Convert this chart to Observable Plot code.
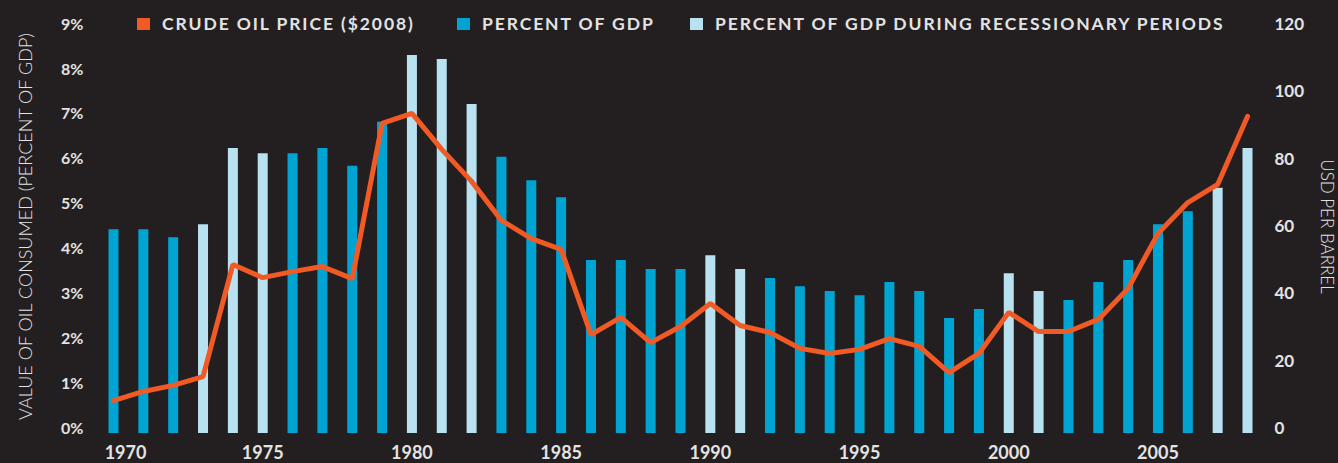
<!DOCTYPE html>
<html>
<head>
<meta charset="utf-8">
<script src="https://cdn.jsdelivr.net/npm/d3@7"></script>
<script src="https://cdn.jsdelivr.net/npm/@observablehq/plot@0.6"></script>
<style>
  html, body { margin: 0; padding: 0; background: #231f20; }
  #wrap { position: relative; width: 1338px; height: 463px; overflow: hidden; }
  .leg { position: absolute; top: 14px; display: flex; align-items: center; font-family: Lato, sans-serif; font-weight: 700; font-size: 17.5px; letter-spacing: 1.9px; color: #e3e3e3; white-space: nowrap; line-height: 20px; }
  .sw { width: 13px; height: 12px; margin-right: 12px; }
</style>
</head>
<body>
<div id="wrap"></div>
<script>
// ---- data ----
const years = [1970,1971,1972,1973,1974,1975,1976,1977,1978,1979,
               1980,1981,1982,1983,1984,1985,1986,1987,1988,1989,
               1990,1991,1992,1993,1994,1995,1996,1997,1998,1999,
               2000,2001,2002,2003,2004,2005,2006,2007,2008];
const pctOfGdp = [4.43,4.43,4.25,4.54,6.24,6.12,6.12,6.24,5.84,6.82,
                  8.31,8.22,7.22,6.04,5.52,5.14,3.74,3.74,3.54,3.54,
                  3.85,3.54,3.34,3.16,3.05,2.96,3.25,3.05,2.45,2.65,
                  3.45,3.05,2.85,3.25,3.74,4.54,4.83,5.35,6.24];
const oilPrice = [8.3,11,12.8,15.4,48.7,44.8,46.6,48.1,44.5,90.6,
                  93.6,82.9,73.4,61.8,56.4,53.2,27.9,33,25.5,30.3,
                  37.1,30.6,28.5,23.8,22.3,23.5,26.7,24.4,16.6,22.3,
                  34.5,28.8,28.8,32.4,41.6,57.9,67.1,72.5,92.7];
const recessionYears = [1973,1974,1975,1980,1981,1982,1990,1991,2000,2001,2007,2008];
const pctTicks = [0,1,2,3,4,5,6,7,8,9];
const usdTicks = [0,20,40,60,80,100,120];
const yearTicks = [1970,1975,1980,1985,1990,1995,2000,2005];
const legendLabels = ["CRUDE OIL PRICE ($2008)", "PERCENT OF GDP", "PERCENT OF GDP DURING RECESSIONARY PERIODS"];
const leftTitle = "VALUE OF OIL CONSUMED (PERCENT OF GDP)";
const rightTitle = "USD PER BARREL";

// ---- styles ----
const C_ORANGE = "#f15a24", C_BLUE = "#00a4d3", C_LIGHT = "#b9e2f1", C_TEXT = "#e3e3e3";
const pctMax = 9, usdMax = 120;
const usdToPct = pctMax / usdMax;

const rows = years.map((y, i) => ({
  year: y, pct: pctOfGdp[i], oil: oilPrice[i], recession: recessionYears.includes(y)
}));

const xTickStyle = { tickSize: 0, tickPadding: 18, fontSize: 18, fontWeight: 700, fill: C_TEXT, label: null, tickFormat: d => String(d) };

const chart = Plot.plot({
  width: 1338,
  height: 463,
  marginLeft: 113,
  marginRight: 91,
  marginTop: 24,
  marginBottom: 35,
  style: { background: "#231f20", color: C_TEXT, fontFamily: "Lato, sans-serif" },
  x: { domain: [1970, 2008], axis: null },
  y: { domain: [0, pctMax], axis: null },
  marks: [
    Plot.ruleX(rows, { x: "year", y1: "pct", y2: 0, insetBottom: -5,
      stroke: d => d.recession ? C_LIGHT : C_BLUE, strokeWidth: 10 }),
    Plot.line(rows, { x: "year", y: d => d.oil * usdToPct, stroke: C_ORANGE, strokeWidth: 5,
      strokeLinejoin: "miter", strokeLinecap: "round" }),
    Plot.axisY({ anchor: "left", ticks: pctTicks, tickFormat: d => d + "%", tickSize: 0, tickPadding: 30,
      fontSize: 16, fontWeight: 700, fill: C_TEXT, label: null }),
    Plot.axisY({ anchor: "right", ticks: usdTicks.map(v => v * usdToPct), tickFormat: v => String(Math.round(v / usdToPct)),
      tickSize: 0, tickPadding: 27, fontSize: 17, fontWeight: 700, fill: C_TEXT, label: null }),
    Plot.axisX({ ...xTickStyle, ticks: yearTicks.slice(0, 1), dx: 12 }),
    Plot.axisX({ ...xTickStyle, ticks: yearTicks.slice(1) }),
    Plot.text([leftTitle], { text: d => d, frameAnchor: "left", rotate: -90, dx: -87,
      fontSize: 18, fontWeight: 300, fill: C_TEXT, textAnchor: "middle", lineAnchor: "middle" }),
    Plot.text([rightTitle], { text: d => d, frameAnchor: "right", rotate: 90, dx: 79,
      fontSize: 17, fontWeight: 300, fill: C_TEXT, textAnchor: "middle", lineAnchor: "middle" })
  ]
});

const wrap = document.getElementById("wrap");
wrap.appendChild(chart);

const legendColors = [C_ORANGE, C_BLUE, C_LIGHT];
const legendLeft = [137, 457, 690];
legendLabels.forEach((lab, i) => {
  const d = document.createElement("div");
  d.className = "leg";
  d.style.left = legendLeft[i] + "px";
  const s = document.createElement("span");
  s.className = "sw";
  s.style.background = legendColors[i];
  const t = document.createElement("span");
  t.textContent = lab;
  d.appendChild(s); d.appendChild(t);
  wrap.appendChild(d);
});
</script>
</body>
</html>
